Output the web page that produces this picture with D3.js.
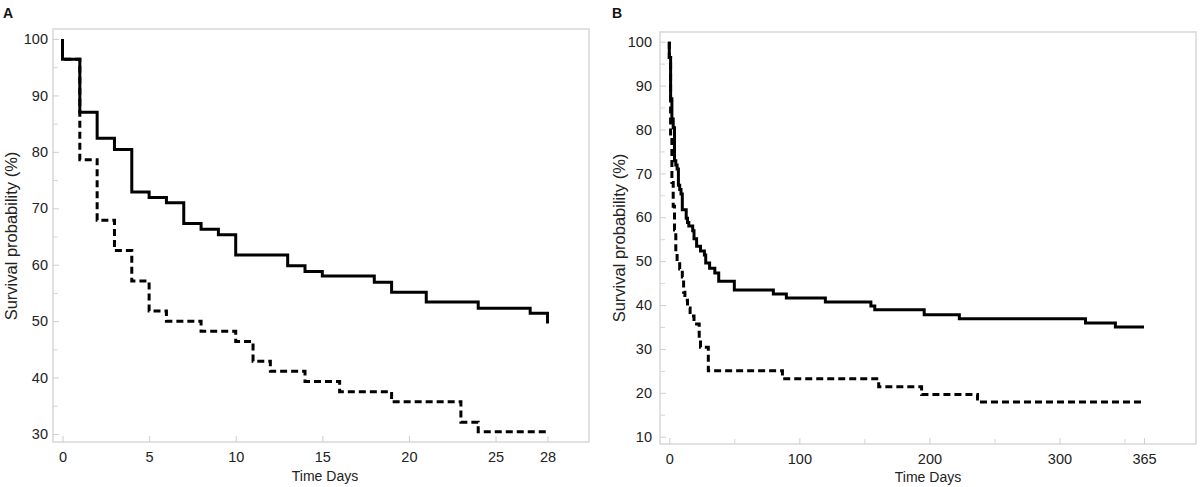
<!DOCTYPE html>
<html>
<head>
<meta charset="utf-8">
<script src="https://cdn.jsdelivr.net/npm/d3@7"></script>
<style>
  html, body { margin: 0; padding: 0; background: #fff; }
  svg { display: block; font-family: "Liberation Sans", Arial, sans-serif; }
</style>
</head>
<body>
<svg id="chart" width="1200" height="487"></svg>
<script>
// ---------- DATA ----------
// Panel A (28 days) – solid group
const aSolidTimes  = [0, 0, 1, 2, 3, 4, 5, 6, 7, 8, 9, 10, 13, 14, 15, 18, 19, 21, 24, 27, 28];
const aSolidValues = [100, 96.4, 87.0, 82.4, 80.4, 72.9, 71.9, 71.0, 67.3, 66.3, 65.3, 61.7, 59.8, 58.8, 58.0, 56.9, 55.1, 53.4, 52.3, 51.4, 49.6];
// Panel A – dashed group
const aDashTimes  = [0, 0, 1, 2, 3, 4, 5, 6, 8, 10, 11, 12, 14, 16, 19, 23, 24, 28];
const aDashValues = [100, 96.4, 78.6, 67.9, 62.5, 57.1, 51.8, 50.0, 48.2, 46.4, 42.9, 41.1, 39.3, 37.5, 35.7, 32.1, 30.4, 30.4];

// Panel B (365 days) – solid group
const bSolidTimes  = [0, 0, 1, 2, 3, 4, 5, 6, 7, 8, 9, 10, 13, 14, 15, 18, 19, 21, 24, 27, 28, 31, 35, 38, 50, 80, 90, 120, 155, 158, 196, 223, 320, 343, 365];
const bSolidValues = [100, 96.4, 87.0, 82.4, 80.4, 72.9, 71.9, 71.0, 67.3, 66.3, 65.3, 61.7, 59.8, 58.8, 58.0, 56.9, 55.1, 53.4, 52.3, 51.4, 49.6, 48.4, 47.3, 45.4, 43.4, 42.5, 41.6, 40.7, 39.8, 38.9, 37.8, 36.9, 35.9, 35.0, 35.0];
// Panel B – dashed group
const bDashTimes  = [0, 0, 1, 2, 3, 4, 5, 6, 8, 10, 11, 12, 14, 16, 19, 23, 24, 30, 87, 161, 194, 237, 365];
const bDashValues = [100, 96.4, 78.6, 67.9, 62.5, 57.1, 51.8, 50.0, 48.2, 46.4, 42.9, 41.1, 39.3, 37.5, 35.7, 32.1, 30.4, 25.0, 23.2, 21.4, 19.6, 17.9, 17.9];

// Tick values
const aXTicks = [0, 5, 10, 15, 20, 25, 28];
const aYTicks = [30, 40, 50, 60, 70, 80, 90, 100];
const aYMinor = [35, 45, 55, 65, 75, 85, 95];
const bXTicks = [0, 100, 200, 300, 365];
const bXMinor = [50, 150, 250, 350];
const bYTicks = [10, 20, 30, 40, 50, 60, 70, 80, 90, 100];
const bYMinor = [15, 25, 35, 45, 55, 65, 75, 85, 95];

const xTitle = "Time Days";
const yTitle = "Survival probability (%)";

// ---------- DRAW ----------
const svg = d3.select("#chart");

function zip(t, v) { return t.map((d, i) => [d, v[i]]); }

function panel(cfg) {
  const g = svg.append("g");
  const x = d3.scaleLinear().domain(cfg.xDomain).range(cfg.xRange);
  const y = d3.scaleLinear().domain(cfg.yDomain).range(cfg.yRange);

  // frame
  g.append("rect")
    .attr("x", cfg.frame[0]).attr("y", cfg.frame[1])
    .attr("width", cfg.frame[2] - cfg.frame[0]).attr("height", cfg.frame[3] - cfg.frame[1])
    .attr("fill", "none").attr("stroke", "#d8d8d8").attr("stroke-width", 1.5);

  // x axis
  const xAxis = g.append("g").attr("transform", `translate(0,${cfg.frame[3]})`)
    .call(d3.axisBottom(x).tickValues(cfg.xTicks).tickSize(-6).tickPadding(10).tickFormat(d3.format("d")));
  xAxis.select(".domain").remove();
  xAxis.selectAll("line").attr("stroke", "#cfcfcf");
  xAxis.selectAll("text").attr("fill", "#222").style("font-size", "14.5px");
  if (cfg.xMinor) {
    const m = g.append("g").attr("transform", `translate(0,${cfg.frame[3]})`)
      .call(d3.axisBottom(x).tickValues(cfg.xMinor).tickSize(-5).tickFormat(""));
    m.select(".domain").remove();
    m.selectAll("line").attr("stroke", "#d6d6d6");
  }

  // y axis
  const yAxis = g.append("g").attr("transform", `translate(${cfg.frame[0]},0)`)
    .call(d3.axisLeft(y).tickValues(cfg.yTicks).tickSize(-6).tickPadding(cfg.yPad).tickFormat(d3.format("d")));
  yAxis.select(".domain").remove();
  yAxis.selectAll("line").attr("stroke", "#cfcfcf");
  yAxis.selectAll("text").attr("fill", "#222").style("font-size", "14.5px");
  const ym = g.append("g").attr("transform", `translate(${cfg.frame[0]},0)`)
    .call(d3.axisLeft(y).tickValues(cfg.yMinor).tickSize(-5).tickFormat(""));
  ym.select(".domain").remove();
  ym.selectAll("line").attr("stroke", "#d6d6d6");

  // curves
  const line = d3.line().x(d => x(d[0])).y(d => y(d[1])).curve(d3.curveStepAfter);
  g.append("path").datum(zip(cfg.dashT, cfg.dashV))
    .attr("d", line).attr("fill", "none").attr("stroke", "#000")
    .attr("stroke-width", 3).attr("stroke-dasharray", "7,4");
  g.append("path").datum(zip(cfg.solidT, cfg.solidV))
    .attr("d", line).attr("fill", "none").attr("stroke", "#000")
    .attr("stroke-width", 3);

  // titles
  g.append("text").attr("x", cfg.xTitlePos[0]).attr("y", cfg.xTitlePos[1])
    .attr("text-anchor", "middle").attr("fill", "#222").style("font-size", "14px").text(xTitle);
  g.append("text")
    .attr("transform", `translate(${cfg.yTitlePos[0]},${cfg.yTitlePos[1]}) rotate(-90)`)
    .attr("text-anchor", "middle").attr("fill", "#222").style("font-size", "16.5px").text(yTitle);
  g.append("text").attr("x", cfg.label[1]).attr("y", cfg.label[2])
    .attr("fill", "#111").style("font-size", "14px").style("font-weight", "bold").text(cfg.label[0]);
}

panel({
  xDomain: [0, 28], xRange: [62.5, 547.5],
  yDomain: [30, 100], yRange: [434, 39],
  frame: [53, 29, 589, 442],
  xTicks: aXTicks, yTicks: aYTicks, yMinor: aYMinor, yPad: 5,
  solidT: aSolidTimes, solidV: aSolidValues, dashT: aDashTimes, dashV: aDashValues,
  xTitlePos: [325, 481], yTitlePos: [17, 236], label: ["A", 3, 18]
});

panel({
  xDomain: [0, 365], xRange: [669.3, 1144],
  yDomain: [10, 100], yRange: [436.7, 41.7],
  frame: [660, 32, 1196, 444],
  xTicks: bXTicks, xMinor: bXMinor, yTicks: bYTicks, yMinor: bYMinor, yPad: 8,
  solidT: bSolidTimes, solidV: bSolidValues, dashT: bDashTimes, dashV: bDashValues,
  xTitlePos: [928, 482], yTitlePos: [625, 238], label: ["B", 612, 18]
});
</script>
</body>
</html>
